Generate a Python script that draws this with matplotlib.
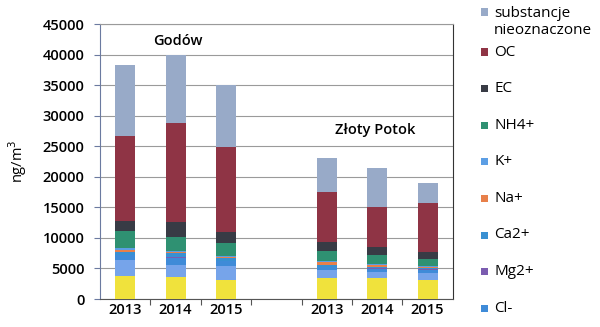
import numpy as np
import matplotlib
matplotlib.use("Agg")
import matplotlib.pyplot as plt
from matplotlib.patches import Rectangle

plt.rcParams['font.family'] = ['Open Sans', 'DejaVu Sans']

# category slots: three years per station, one empty slot between stations
years = ["2013", "2014", "2015", "", "2013", "2014", "2015"]
stations = ["Godów", "Złoty Potok"]

# components, bottom of the stack first (ng/m3); zeros = empty slot
so4 = [3750, 3600, 3100, 0, 3500, 3400, 3100]
no3 = [2600, 1950, 2300, 0, 1200, 1100, 1200]
cl = [800, 1200, 800, 0, 500, 450, 500]
mg2 = [100, 100, 100, 0, 60, 60, 60]
ca2 = [400, 650, 400, 0, 300, 220, 200]
na = [450, 200, 200, 0, 450, 370, 170]
k = [250, 150, 150, 0, 130, 100, 110]
nh4 = [2700, 2250, 2100, 0, 1700, 1500, 1200]
ec = [1750, 2500, 1800, 0, 1460, 1300, 1140]
oc = [13800, 16200, 13850, 0, 8200, 6500, 8020]
unknown = [11700, 11200, 10300, 0, 5500, 6400, 3250]

# (values, colour, legend label) from the bottom up
layers = [
    (so4, "#f0e23c", None),
    (no3, "#76a4ea", None),
    (cl, "#3f8bd8", "Cl-"),
    (mg2, "#7b5cb0", "Mg2+"),
    (ca2, "#3990d2", "Ca2+"),
    (na, "#e8804a", "Na+"),
    (k, "#5c9ee4", "K+"),
    (nh4, "#2f9172", "NH4+"),
    (ec, "#383b45", "EC"),
    (oc, "#8f3445", "OC"),
    (unknown, "#98aac8", "substancje\nnieoznaczone"),
]

W, H = 600, 327
fig = plt.figure(figsize=(W / 100, H / 100), dpi=100)
ax = fig.add_axes([0.1667, 0.0856, 0.588, 0.841])

x = np.arange(len(years))
bottom = np.zeros(len(years))
legend_items = []
for vals, color, label in layers:
    vals = np.array(vals, dtype=float)
    ax.bar(x, vals, width=0.4, bottom=bottom, color=color, zorder=3,
           linewidth=0)
    if label is not None:
        legend_items.append((color, label))
    bottom += vals

ax.set_xlim(-0.5, 6.5)
ax.set_ylim(0, 45000)
ax.set_yticks(np.arange(0, 45001, 5000))
ax.tick_params(axis='y', labelsize=10.5, length=4, color="#6b7aa0", pad=7)
for t in ax.get_yticklabels():
    t.set_fontweight("semibold")
ax.grid(True, axis='y', color="#9a9a9a", linewidth=0.8, zorder=0)

# ticks between categories, year labels under bars
ax.set_xticks(np.arange(0.5, 6, 1.0))
ax.set_xticklabels([])
ax.tick_params(axis='x', which='major', length=4, color="#555555")
ax.set_xticks(x, minor=True)
ax.set_xticklabels(years, minor=True, fontsize=10.5, fontweight="semibold")
ax.tick_params(axis='x', which='minor', length=0, pad=3)

ax.spines['left'].set_color("#6b7aa0")
ax.spines['top'].set_color("#9a9a9a")
ax.spines['bottom'].set_color("#555555")
ax.spines['right'].set_color("#333333")

ax.set_ylabel("ng/m$^3$", fontsize=10.5, labelpad=10)

ax.text(1.05, 42200, stations[0], ha='center', va='center', fontsize=10.5,
        fontweight='semibold', zorder=5)
ax.text(4.95, 27600, stations[1], ha='center', va='center', fontsize=10.5,
        fontweight='semibold', zorder=5)

# legend drawn by hand: top of the stack first, first entry wraps onto two lines
legend_items = legend_items[::-1]
for i, (color, label) in enumerate(legend_items):
    if i == 0:
        ym, yt = 12, 22
    else:
        ym = yt = 52 + 36.6 * (i - 1)
    fig.add_artist(Rectangle((481 / W, 1 - (ym + 3.5) / H), 7 / W, 7 / H,
                             transform=fig.transFigure, color=color, lw=0))
    fig.text(494 / W, 1 - yt / H, label, ha='left', va='center',
             fontsize=11, linespacing=1.25)

fig.savefig("out.png", dpi=100)
